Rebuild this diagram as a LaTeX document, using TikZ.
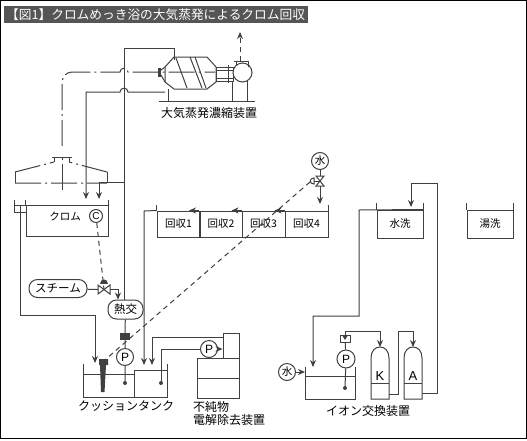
\documentclass[tikz,border=0pt]{standalone}
\usepackage{fontspec}
\setmainfont{Noto Sans CJK JP}
\newfontfamily\latinfont{Liberation Sans}
\usetikzlibrary{arrows.meta, positioning, calc}
\definecolor{Pipe}{HTML}{404040}
\definecolor{TitleBar}{HTML}{555555}
\tikzset{
  pipe/.style={Pipe, line width=1pt},
  duct/.style={pipe, dash pattern=on 26pt off 4pt on 2pt off 4pt},
  sensor/.style={pipe, dash pattern=on 5pt off 4pt},
  tankbox/.style={draw=Pipe, line width=1pt, inner sep=0pt, font=\fontsize{10.5}{12}\selectfont},
  pump/.style={circle, draw=Pipe, fill=white, line width=1pt, inner sep=0pt, minimum size=17pt, font=\latinfont\fontsize{12}{13}\selectfont},
  pill/.style={rounded corners=8.5pt, draw=Pipe, fill=white, line width=1pt, inner sep=0pt, minimum height=18pt},
  caption/.style={inner sep=0pt, font=\fontsize{12}{13.5}\selectfont, text=black},
  tiny dot/.style={circle, fill=Pipe, inner sep=0pt, minimum size=4pt}
}
\begin{document}
\begin{tikzpicture}[>={Stealth[length=7pt, width=6pt]}, x=1pt, y=-1pt]
  \useasboundingbox (0,0) rectangle (527,440);
  \fill[white] (0,0) rectangle (527,440);
  \draw[black, line width=1.2pt] (0.6,0.6) rectangle (526.4,438.6);
  \fill[TitleBar] (4,6) rectangle (308,23);
  \node[anchor=west, inner sep=0pt, text=white, font=\fontsize{12.7}{14}\selectfont] (title) at (6,14.5)
    {【図1】クロムめっき浴の大気蒸発によるクロム回収};

  % evaporator
  \draw[pipe] (165,67) -- (174,57) -- (207,57) -- (216,67) -- (216,82) -- (207,89) -- (174,89) -- (165,82) -- cycle;
  \fill[Pipe] (158,68) rectangle (161,77);
  \draw[pipe] (161,70) -- (165,67) (161,75) -- (165,82);
  \draw[pipe] (176,58) -- (187,88) (190,57) -- (202,88) (195,57) -- (206,88);
  \draw[pipe] (216,67) rectangle (233,81) (216,70) -- (233,70) (216,78) -- (233,78) (228,65) -- (228,83);
  \node[pump, minimum size=19pt] (fan) at (242.5,72.5) {};
  \draw[pipe] (234,61) -- (249,61) (236,61) -- (236,65) (248,61) -- (248,67);
  \draw[pipe] (168,89) -- (168,101) (232,81) -- (232,101) (247,80) -- (247,101) (159,101) -- (255,101);
  \coordinate (exhaust) at (240,32);
  \draw[sensor, ->] (240,61) -- (exhaust);
  \node[caption] (evaplabel) at (209,113) {大気蒸発濃縮装置};

  % hood and duct
  \draw[duct] (15,172) -- (54,162) (107,172) -- (69,162) (15,183) -- (107,183);
  \draw[pipe] (15,172) -- (15,183) (107,172) -- (107,183);
  \draw[pipe] (52,157) -- (72,157) (54,157) -- (54,162) (69,157) -- (69,162);
  \draw[duct] (62,190) -- (62,157);
  \draw[duct] (62,146) -- (62,85) .. controls (62,76) and (65,72) .. (74,72) -- (120,72)
    .. controls (120,67) and (128,67) .. (128,72) -- (215,72);

  % chrome bath
  \node[tankbox, minimum width=82pt, minimum height=31pt] (chrome) at (67,220.5) {};
  \node[inner sep=0pt, font=\fontsize{10.5}{12}\selectfont] (chromelabel) at (65,216) {クロム};
  \node[circle, draw=Pipe, line width=1pt, inner sep=0pt, minimum size=13pt, font=\latinfont\fontsize{10}{11}\selectfont] (level) at (96,216) {C};
  \draw[pipe] (chrome.north west) -- ++(0,-5) (chrome.north east) -- ++(0,-5);
  \draw[pipe] (14,200) -- (14,212) -- (26,212) (14,205) -- (26,205);
  \node[pill, minimum width=58pt] (steam) at (58,288.5) {\fontsize{11.5}{12}\selectfont スチーム};
  \node[pill, minimum width=35pt, minimum height=19pt] (heatex) at (125.5,309.5) {\fontsize{11.5}{12}\selectfont 熱交};
  \coordinate (steamvalve) at (104,289.5);
  \draw[sensor] (level) -- (steamvalve);
  \fill[Pipe] (100,284) .. controls (100,278) and (108,278) .. (108,284) -- cycle;
  \draw[pipe, fill=white] (98,285) -- (110,294) -- (110,285) -- (98,294) -- cycle;
  \draw[pipe] (steam) -- (98,289.5);
  \draw[pipe, ->] (110,289.5) -- (118,289.5) -- (heatex.north -| 118,0);

  % cushion tank
  \coordinate (cushleft) at (83,364);
  \coordinate (cushright) at (167,364);
  \coordinate (cushfeed) at (144,365);
  \coordinate (cushreturn) at (152,365);
  \draw[pipe] (cushleft) -- (83,397) -- (167,397) -- (cushright);
  \draw[pipe] (83,374) -- (134,374) (134,397) -- (134,370) -- (167,370);
  \fill[Pipe] (99,359) rectangle (108,365) (100,365) -- (106,365) -- (104.5,392) -- (101,392) -- cycle;
  \node[pump] (pumpa) at (125,357) {P};
  \node[tiny dot] (dota) at (125,383) {};
  \node[tiny dot] (dotb) at (161,383) {};
  \fill[Pipe] (120,333) rectangle (130,340);
  \draw[pipe] (heatex) -- (125,333) (125,340) -- (pumpa) (pumpa) -- (dota);
  \draw[pipe, ->] (chrome.north west -| 20,0) -- (20,315) -- (95,315) -- (95,363);
  \node[caption] (cushlabel) at (126,406) {クッションタンク};

  % impurity removal unit
  \node[tankbox, minimum width=42pt, minimum height=20pt] (unitlow) at (218,388) {};
  \node[tankbox, minimum width=42pt, minimum height=20pt] (unitmid) at (218,368) {};
  \node[tankbox, minimum width=16pt, minimum height=25pt] (unittop) at (231,345.5) {};
  \node[pump] (pumpb) at (209,349) {P};
  \draw[pipe] (dotb) -- (161,349) -- (pumpb);
  \draw[pipe, ->] (pumpb) -- (unittop.west |- pumpb);
  \draw[pipe, ->] (unittop.west |- 0,337) -- (152,337) -- (cushreturn);
  \node[caption, anchor=north west, align=left] (unitlabel) at (193,401) {不純物\\電解除去装置};

  % recovery tanks
  \foreach \name/\cx/\txt in {recova/178.5/回収1, recovb/221/回収2, recovc/263.5/回収3, recovd/306.5/回収4} {
    \node[tankbox, minimum width=43pt, minimum height=26pt] (\name) at (\cx,224) {\txt};
  }
  \draw[pipe] (recova.north west) -- ++(0,-6) (recovd.north east) -- ++(0,-6);
  \foreach \name in {recovb, recovc, recovd} {
    \draw[pipe, ->] (\name.north west) -- ++(-10,0);
  }
  \draw[pipe, ->] (recova.north west) -- (144,211) -- (cushfeed);

  % make-up water and sensor line
  \node[pump, font=\fontsize{10.5}{12}\selectfont] (watera) at (320,161) {水};
  \coordinate (watervalve) at (320,181);
  \draw[pipe, ->] (watera) -- (320,204);
  \draw[pipe, fill=white] (316,176) -- (324,176) -- (316,186) -- (324,186) -- cycle;
  \draw[pipe] (312,181) -- (watervalve);
  \draw[pipe, fill=white] (314,178) .. controls (309,178) and (309,184) .. (314,184) -- cycle;
  \coordinate (probe) at (106,359);
  \draw[sensor] (310,182) -- (probe);

  % rinse tanks
  \node[tankbox, minimum width=46pt, minimum height=28pt] (rinse) at (400,224) {水洗};
  \node[tankbox, minimum width=46pt, minimum height=28pt] (hotrinse) at (490,224) {湯洗};
  \foreach \name in {rinse, hotrinse} {
    \draw[pipe] (\name.north west) -- ++(0,-7) (\name.north east) -- ++(0,-7);
  }

  % ion exchange
  \coordinate (iontop) at (305,367);
  \draw[pipe] (iontop) -- (305,399) -- (355,399) -- (355,367) (305,376) -- (355,376);
  \node[pump, font=\fontsize{10.5}{12}\selectfont] (waterb) at (287,372) {水};
  \draw[pipe, ->] (waterb) -- (iontop |- waterb);
  \node[pump, minimum size=18pt] (pumpc) at (346,359) {P};
  \node[tiny dot] (dotc) at (345,388) {};
  \draw[pipe] (pumpc) -- (dotc);
  \node[draw=Pipe, line width=1pt, fill=white, inner sep=0pt, minimum width=10pt, minimum height=7pt] (flow) at (345,338.5) {};
  \fill[Pipe] (342.5,336) -- (347.5,336) -- (345,340) -- cycle;
  \draw[pipe] (flow) -- (pumpc);
  \foreach \name/\lx/\txt in {colk/371/K, cola/404/A} {
    \draw[pipe] (\lx,399) -- (\lx,358) .. controls (\lx,351) and (\lx+4,347) .. (\lx+9,347)
      .. controls (\lx+14,347) and (\lx+18,351) .. (\lx+18,358) -- (\lx+18,399) -- cycle;
    \draw[pipe] (\lx,383) -- (\lx+18,383);
    \node[inner sep=0pt, font=\latinfont\fontsize{13}{14}\selectfont] (\name) at (\lx+9,376) {\txt};
  }
  \draw[pipe, ->] (flow.north) -- (345,331) -- (380,331) -- (380,347);
  \draw[pipe, ->] (389,394) -- (398,394) -- (398,331) -- (413,331) -- (413,347);
  \draw[pipe, ->] (422,393) -- (437,393) -- (437,183) -- (411,183) -- (411,207);
  \draw[pipe, ->] (rinse.north east) -- (359,210) -- (359,316) -- (313,316) -- (313,367);
  \node[caption] (ionlabel) at (368,411) {イオン交換装置};

  % pipes across the top
  \draw[pipe] (174,60) -- (174,48) -- (124,48) -- (124,300);
  \draw[pipe, ->] (124,182) -- (99,182) -- (99,199);
  \draw[pipe, ->] (165,92) -- (128,92) .. controls (128,87) and (120,87) .. (120,92) -- (86,92) -- (86,199);
\end{tikzpicture}
\end{document}
